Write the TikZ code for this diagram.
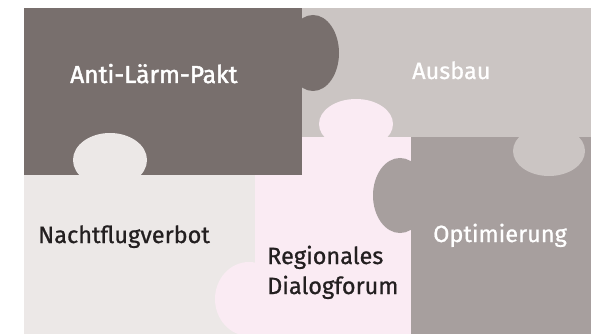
\documentclass[tikz,border=0pt]{standalone}
\usepackage{fontspec}
\setmainfont{Fira Sans}[FakeBold=0.8]
\newfontfamily\heavyfont{Fira Sans}[FakeBold=1.8]
\begin{document}
\begin{tikzpicture}[x=1pt,y=-1pt,
  piece/.style={fill=#1,draw=none},
  tab/.style={fill=#1,draw=none},
  lbl/.style={anchor=base west,inner sep=0pt,font=\fontsize{23.5}{30}\selectfont},
  lightlbl/.style={lbl,text=white},
  darklbl/.style={lbl,text=textdark,align=left}]
\definecolor{pakt}{HTML}{786F6D}
\definecolor{ausbau}{HTML}{CBC5C3}
\definecolor{forum}{HTML}{FAEBF3}
\definecolor{nacht}{HTML}{ECE8E7}
\definecolor{optim}{HTML}{A79F9E}
\definecolor{textdark}{HTML}{231F20}
\useasboundingbox[fill=white] (0,0) rectangle (597,334);
% base rectangles of the five pieces
\fill[piece=ausbau] (302,8) rectangle (591,137);
\fill[piece=optim]  (411,137) rectangle (591,334);
\fill[piece=nacht]  (24,175) rectangle (255,334);
\fill[piece=forum]  (255,137) rectangle (411,334);
\fill[piece=pakt]   (24,8) rectangle (302,175);
% tabs reaching into neighbouring pieces
\fill[tab=pakt]   (313,53)  ellipse [x radius=26pt, y radius=38pt];
\fill[tab=nacht]  (110,160) ellipse [x radius=37pt, y radius=27pt];
\fill[tab=forum]  (356,124) ellipse [x radius=37pt, y radius=25pt];
\fill[tab=forum]  (249,299) ellipse [x radius=34pt, y radius=37pt];
\fill[tab=ausbau] (549,151) ellipse [x radius=36pt, y radius=25pt];
\fill[tab=optim]  (400,195.5) ellipse [x radius=27pt, y radius=37.5pt];
% labels
\node[lightlbl,font=\fontsize{24.5}{30}\heavyfont] (pakttxt) at (70,83) {Anti-Lärm-Pakt};
\node[lightlbl] (ausbautxt) at (412,79) {Ausbau};
\node[darklbl] (nachttxt) at (38,243) {Nachtflugverbot};
\node[darklbl] (forumtxt1) at (267,264) {Regionales};
\node[darklbl] (forumtxt2) at (267,294) {Dialogforum};
\node[lightlbl] (optimtxt) at (433,242) {Optimierung};
\end{tikzpicture}
\end{document}
